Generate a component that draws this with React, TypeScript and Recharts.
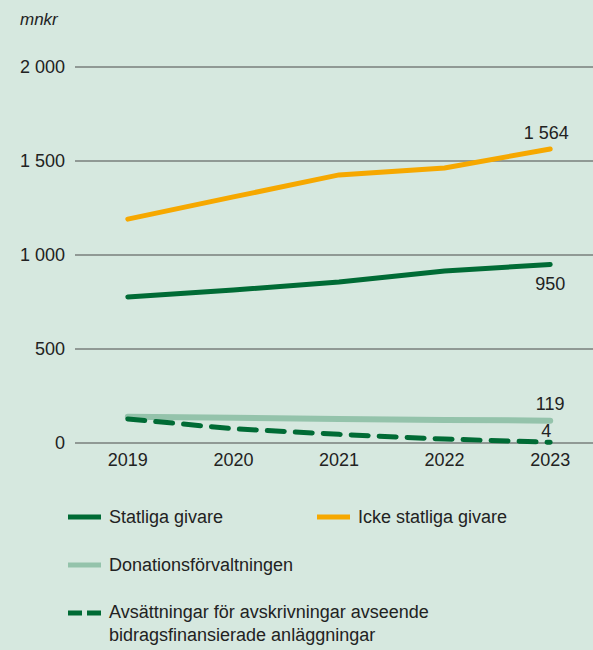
// Linjediagram: bidragsintäkter per givartyp 2019–2023 (mnkr)
import { LineChart, Line, XAxis, YAxis, CartesianGrid } from "recharts";

const years = ["2019", "2020", "2021", "2022", "2023"];
const statliga = [777, 814, 856, 915, 950];
const ickeStatliga = [1191, 1309, 1426, 1463, 1564];
const donation = [140, 134, 128, 123, 119];
const avsattningar = [128, 76, 46, 21, 4];
const yTicks = [0, 500, 1000, 1500, 2000];

const BG = "#d6e8df";
const DARK = "#006b35";
const ORANGE = "#f6a800";
const LIGHT = "#94c3ab";
const FONT = "'Liberation Sans', Arial, Helvetica, sans-serif";

const data = years.map((y, i) => ({
  year: y,
  statliga: statliga[i],
  icke: ickeStatliga[i],
  donation: donation[i],
  avs: avsattningar[i],
}));

const fmt = (v: number) => String(v).replace(/\B(?=(\d{3})+(?!\d))/g, " ");

function endLabel(dx: number, dy: number) {
  return (props: any) => {
    if (props.index !== years.length - 1) return null;
    return (
      <text
        x={props.x + dx}
        y={props.y + dy}
        textAnchor="middle"
        dominantBaseline="central"
        fill="#222"
        fontSize={18}
        fontFamily={FONT}
      >
        {fmt(props.value)}
      </text>
    );
  };
}

function Swatch({ color, dashed }: { color: string; dashed?: boolean }) {
  return (
    <svg width={33} height={6} style={{ display: "block", marginRight: 8, flexShrink: 0 }}>
      <line
        x1={0}
        y1={3}
        x2={33}
        y2={3}
        stroke={color}
        strokeWidth={5}
        strokeDasharray={dashed ? "14 5" : undefined}
      />
    </svg>
  );
}

export default function App() {
  return (
    <div
      style={{
        position: "absolute",
        left: 0,
        top: 0,
        width: 593,
        height: 650,
        background: BG,
        overflow: "hidden",
        fontFamily: FONT,
        color: "#222",
      }}
    >
      <div
        style={{
          position: "absolute",
          left: 20,
          top: 10,
          fontSize: 17,
          fontStyle: "italic",
        }}
      >
        mnkr
      </div>
      <div style={{ position: "absolute", left: 0, top: 0 }}>
        <LineChart
          width={603}
          height={480}
          data={data}
          margin={{ top: 67, right: 0, left: 0, bottom: 0 }}
        >
          <CartesianGrid vertical={false} stroke="#4a4a4a" strokeWidth={1} />
          <XAxis
            dataKey="year"
            axisLine={false}
            tickLine={false}
            tickSize={0}
            tickMargin={10}
            height={37}
            padding={{ left: 52.8, right: 52.8 }}
            tick={{ fill: "#222", fontSize: 18, fontFamily: FONT }}
          />
          <YAxis
            domain={[0, 2000]}
            ticks={yTicks}
            axisLine={false}
            tickLine={false}
            tickSize={0}
            tickMargin={10}
            width={75}
            tickFormatter={fmt}
            tick={{ fill: "#222", fontSize: 18, fontFamily: FONT }}
          />
          <Line
            dataKey="donation"
            stroke={LIGHT}
            strokeWidth={6}
            dot={false}
            strokeLinecap="round"
            isAnimationActive={false}
            label={endLabel(0, -17)}
          />
          <Line
            dataKey="avs"
            stroke={DARK}
            strokeWidth={5}
            strokeDasharray="17 11"
            dot={false}
            strokeLinecap="round"
            isAnimationActive={false}
            label={endLabel(-4, -11)}
          />
          <Line
            dataKey="statliga"
            stroke={DARK}
            strokeWidth={5}
            dot={false}
            strokeLinecap="round"
            isAnimationActive={false}
            label={endLabel(0, 20)}
          />
          <Line
            dataKey="icke"
            stroke={ORANGE}
            strokeWidth={5}
            dot={false}
            strokeLinecap="round"
            isAnimationActive={false}
            label={endLabel(-4, -16)}
          />
        </LineChart>
      </div>
      <div style={{ position: "absolute", left: 68, top: 505, fontSize: 18 }}>
        <div style={{ display: "flex", alignItems: "center", height: 24 }}>
          <div style={{ display: "flex", alignItems: "center", width: 249 }}>
            <Swatch color={DARK} />
            Statliga givare
          </div>
          <div style={{ display: "flex", alignItems: "center" }}>
            <Swatch color={ORANGE} />
            Icke statliga givare
          </div>
        </div>
        <div style={{ display: "flex", alignItems: "center", height: 24, marginTop: 24 }}>
          <Swatch color={LIGHT} />
          Donationsförvaltningen
        </div>
        <div style={{ display: "flex", alignItems: "flex-start", marginTop: 24, lineHeight: "23px" }}>
          <div style={{ marginTop: 9 }}>
            <Swatch color={DARK} dashed />
          </div>
          <div>
            Avsättningar för avskrivningar avseende
            <br />
            bidragsfinansierade anläggningar
          </div>
        </div>
      </div>
    </div>
  );
}
